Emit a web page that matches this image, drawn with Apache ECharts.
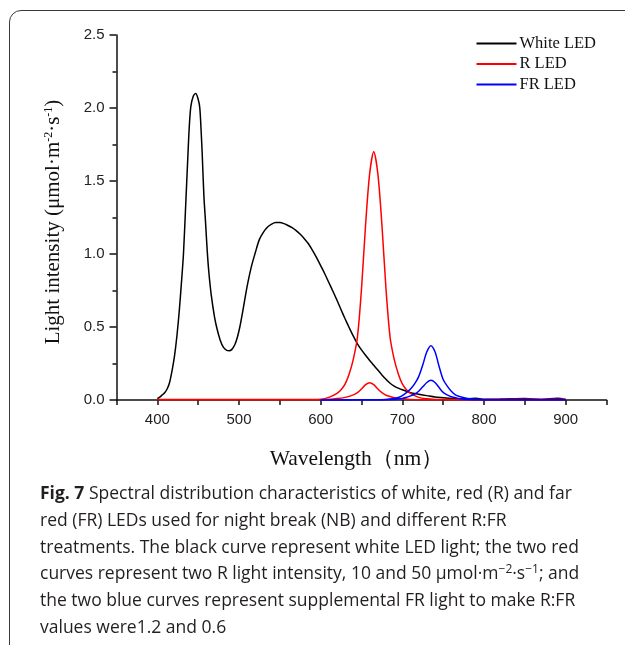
<!DOCTYPE html>
<html>
<head>
<meta charset="utf-8">
<script src="https://cdn.jsdelivr.net/npm/echarts@6/dist/echarts.min.js"></script>
<style>
  html, body { margin: 0; padding: 0; background: #fff; }
  body { width: 625px; height: 645px; position: relative; overflow: hidden; }
  #frame { position: absolute; left: 9px; top: 10px; width: 700px; height: 700px;
           border: 1.5px solid #3a3a3a; border-radius: 12px; box-sizing: border-box; }
  #chart { position: absolute; left: 0; top: 0; width: 625px; height: 645px; }
  #caption { position: absolute; left: 40px; top: 479px; width: 580px;
             font-family: "Open Sans", "Noto Sans", sans-serif; font-size: 17.5px;
             line-height: 26.8px; color: #231f20; white-space: nowrap; }
  #caption b { font-weight: 700; }
  #caption sup { font-size: 12px; line-height: 0; vertical-align: 6px; }
</style>
</head>
<body>
<div id="frame"></div>
<div id="chart"></div>
<div id="caption">
<b>Fig. 7</b> Spectral distribution characteristics of white, red (R) and far<br>
red (FR) LEDs used for night break (NB) and different R:FR<br>
treatments. The black curve represent white LED light; the two red<br>
curves represent two R light intensity, 10 and 50 μmol·m<sup>−2</sup>·s<sup>−1</sup>; and<br>
the two blue curves represent supplemental FR light to make R:FR<br>
values were1.2 and 0.6
</div>
<script>
// ---- data ----
var whiteWl  = [400,403,406,409,412,415,418,421,424,427,430,432,435,437,439,441,444,447,450,452,454,455,457,459,461,463,466,470,473,477,481,485,488,491,495,498,501,505,510,515,520,525,530,535,540,545,550,555,560,565,570,575,580,585,590,595,600,605,610,615,620,625,630,635,640,645,650,655,660,665,670,675,680,685,690,695,700,710,720,730,740,750,760,770,780,790,800,820,850,870,890,900];
var whiteVal = [0.01,0.02,0.035,0.05,0.075,0.12,0.2,0.3,0.44,0.62,0.84,1.0,1.37,1.62,1.86,2.01,2.08,2.10,2.06,2.0,1.8,1.68,1.40,1.22,1.03,0.88,0.72,0.57,0.49,0.41,0.36,0.34,0.338,0.345,0.38,0.43,0.5,0.62,0.78,0.91,1.01,1.10,1.15,1.185,1.205,1.215,1.215,1.208,1.195,1.18,1.16,1.135,1.105,1.07,1.025,0.975,0.92,0.865,0.805,0.745,0.683,0.618,0.555,0.495,0.437,0.385,0.343,0.306,0.271,0.238,0.205,0.172,0.142,0.115,0.095,0.081,0.07,0.05,0.04,0.03,0.02,0.015,0.01,0.008,0.008,0.012,0.005,0.006,0.01,0.004,0.012,0.004];

var rHighWl  = [400,450,500,550,580,600,610,620,625,630,635,640,645,650,655,660,665,670,675,680,685,690,695,700,705,710,720,730,740,750,800,850,900];
var rHighVal = [0.003,0.004,0.003,0.004,0.004,0.006,0.018,0.045,0.07,0.11,0.18,0.28,0.43,0.76,1.2,1.55,1.70,1.55,1.2,0.76,0.43,0.28,0.18,0.11,0.07,0.045,0.018,0.008,0.004,0.003,0.004,0.005,0.005];

var rLowWl  = [400,500,600,620,630,640,645,650,655,660,665,670,675,680,690,700,710,720,800,900];
var rLowVal = [0.002,0.002,0.002,0.01,0.018,0.035,0.05,0.075,0.105,0.119,0.105,0.075,0.05,0.033,0.016,0.008,0.004,0.002,0.002,0.002];

var frHighWl  = [600,650,680,690,695,700,705,710,715,720,725,730,735,740,745,750,755,760,765,770,780,790,800,850,900];
var frHighVal = [0.0,0.001,0.004,0.01,0.017,0.03,0.05,0.075,0.11,0.16,0.24,0.33,0.372,0.33,0.23,0.14,0.095,0.06,0.035,0.024,0.01,0.005,0.002,0.001,0.001];

var frLowWl  = [600,650,690,700,705,710,715,720,725,730,735,740,745,750,755,760,770,780,790,850,900];
var frLowVal = [0.0,0.001,0.004,0.01,0.018,0.028,0.04,0.06,0.09,0.12,0.135,0.12,0.085,0.052,0.035,0.022,0.009,0.004,0.002,0.001,0.001];

var yTicks = [0.0,0.5,1.0,1.5,2.0,2.5];
var xTicks = [400,500,600,700,800,900];

function zip(a, b) { return a.map(function (v, i) { return [v, b[i]]; }); }

var chart = echarts.init(document.getElementById('chart'), null, { renderer: 'canvas' });
var serif = '"Liberation Serif", "Times New Roman", serif';
var sans = '"Liberation Sans", Arial, sans-serif';

function lineSeries(name, color, data) {
  return {
    name: name, type: 'line', data: data, symbol: 'none', showSymbol: false, smooth: 0.3,
    lineStyle: { color: color, width: 1.5 }, itemStyle: { color: color },
    animation: false, z: 3
  };
}

chart.setOption({
  animation: false,
  grid: { left: 116.5, right: 18.5, top: 35, height: 365, containLabel: false, outerBoundsMode: 'none' },
  legend: {
    orient: 'vertical', right: 24, top: 30,
    itemWidth: 40, itemHeight: 14, itemGap: 3.5,
    itemStyle: { opacity: 0 },
    data: ['White LED', 'R LED', 'FR LED'],
    textStyle: { fontFamily: serif, fontSize: 16.5, color: '#111', padding: [0, 0, 0, -2] }
  },
  xAxis: {
    type: 'value', min: 350, max: 950, interval: 50,
    name: 'Wavelength（nm）', nameLocation: 'middle', nameGap: 48,
    nameTextStyle: { fontFamily: serif, fontSize: 21.5, color: '#111', padding: [0, 10, 0, 0] },
    axisLine: { show: true, lineStyle: { color: '#111', width: 1.5 } },
    axisTick: { show: true, inside: false, length: 5, lineStyle: { color: '#111', width: 1.5 } },
    axisLabel: {
      margin: 12, fontFamily: sans, fontSize: 15, color: '#222',
      formatter: function (v) { return xTicks.indexOf(v) >= 0 ? String(v) : ''; }
    },
    splitLine: { show: false }
  },
  yAxis: {
    type: 'value', min: 0, max: 2.5, interval: 0.5,
    name: 'Light intensity (μmol·m{sup|-2}·s{sup|-1})', nameLocation: 'middle', nameGap: 53,
    nameTextStyle: {
      fontFamily: serif, fontSize: 21, color: '#111', padding: [0, 9, 0, 0],
      rich: { sup: { fontFamily: serif, fontSize: 12, verticalAlign: 'top', color: '#111' } }
    },
    axisLine: { show: true, lineStyle: { color: '#111', width: 1.5 } },
    axisTick: { show: true, inside: false, length: 7, lineStyle: { color: '#111', width: 1.5 } },
    minorTick: { show: true, splitNumber: 2, length: 4, lineStyle: { color: '#111', width: 1.5 } },
    axisLabel: {
      margin: 12, fontFamily: sans, fontSize: 15, color: '#222',
      formatter: function (v) { return v.toFixed(1); }
    },
    splitLine: { show: false }, minorSplitLine: { show: false }
  },
  series: [
    lineSeries('White LED', '#000000', zip(whiteWl, whiteVal)),
    lineSeries('R LED', '#ff0000', zip(rHighWl, rHighVal)),
    lineSeries('R LED', '#ff0000', zip(rLowWl, rLowVal)),
    lineSeries('FR LED', '#0000ff', zip(frHighWl, frHighVal)),
    lineSeries('FR LED', '#0000ff', zip(frLowWl, frLowVal))
  ]
});
</script>
</body>
</html>
